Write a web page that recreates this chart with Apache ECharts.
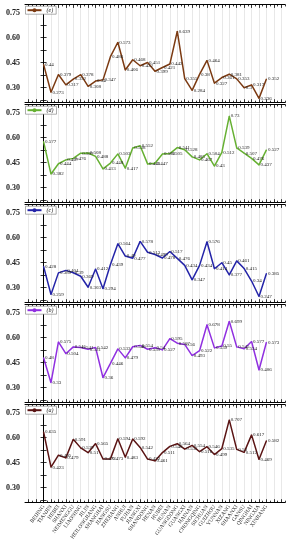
<!DOCTYPE html>
<html><head><meta charset="utf-8">
<script src="https://cdn.jsdelivr.net/npm/echarts@6/dist/echarts.min.js"></script>
<style>html,body{margin:0;padding:0;background:#fff}#c{width:290px;height:550px}</style>
</head><body><div id="c"></div>
<script>
const provinces = ['BEIJING','TIANJIN','HEBEI','SHANXI','NEIMENGGU','LIAONING','JILIN','HEILONGJIANG','SHANGHAI','JIANGSU','ZHEJIANG','ANHUI','FUJIAN','JIANGXI','SHANDONG','HENAN','HUBEI','HUNAN','GUANGDONG','GUANGXI','HAINAN','CHONGQING','SICHUAN','GUIZHOU','YUNNAN','XIZANG','SHAANXI','GANSU','QINGHAI','NINGXIA','XINJIANG'];
const panelNames = ['(e)','(d)','(c)','(b)','(a)'];
const seriesE = [0.44,0.273,0.379,0.317,0.352,0.378,0.308,0.34,0.347,0.486,0.573,0.406,0.468,0.432,0.451,0.399,0.421,0.442,0.639,0.355,0.284,0.38,0.464,0.327,0.361,0.381,0.353,0.3,0.317,0.236,0.352];
const seriesD = [0.577,0.382,0.444,0.467,0.476,0.507,0.508,0.488,0.413,0.448,0.503,0.417,0.538,0.552,0.443,0.447,0.502,0.505,0.541,0.528,0.485,0.467,0.504,0.43,0.512,0.73,0.539,0.507,0.476,0.437,0.527];
const seriesC = [0.428,0.259,0.389,0.404,0.39,0.369,0.303,0.412,0.294,0.439,0.564,0.49,0.477,0.578,0.513,0.499,0.478,0.517,0.476,0.434,0.347,0.434,0.576,0.414,0.45,0.377,0.461,0.415,0.34,0.247,0.385];
const seriesB = [0.48,0.33,0.575,0.504,0.545,0.541,0.531,0.542,0.36,0.446,0.533,0.479,0.546,0.554,0.531,0.54,0.527,0.595,0.567,0.56,0.493,0.522,0.678,0.539,0.55,0.699,0.545,0.534,0.577,0.406,0.573];
const seriesA = [0.635,0.423,0.495,0.479,0.591,0.539,0.51,0.565,0.472,0.473,0.594,0.483,0.592,0.542,0.472,0.461,0.511,0.548,0.564,0.532,0.554,0.516,0.546,0.499,0.535,0.707,0.53,0.512,0.617,0.469,0.582];
const yTickLabels = [0.30,0.45,0.60,0.75];
const yTicks = [0.225,0.30,0.375,0.45,0.525,0.60,0.675,0.75];

const allSeries = [seriesE, seriesD, seriesC, seriesB, seriesA];
const colors = ['#7b3a12','#66b032','#2424a8','#9030e0','#5a1414'];
const font = 'Liberation Serif';
const xMin = -2.5, xMax = 32.5;
const majorX = []; for (let i = -2; i <= 32; i++) majorX.push(i);
const minorX = []; for (let i = -2; i <= 32; i++) minorX.push(i + 0.5);
const catIdx = provinces.map((p, i) => i);

const grids = [], xAxes = [], yAxes = [], series = [], legends = [];
for (let k = 0; k < 5; k++) {
  const top = 4.4 + 100 * k;
  grids.push({left: 25, right: 5, top: top, height: 98.3});
  const base = {gridIndex: k, type: 'value', min: xMin, max: xMax};
  const lineStyle = {color: '#000', width: 1};
  xAxes.push(Object.assign({}, base, {
    position: 'bottom',
    axisLine: {show: true, lineStyle},
    axisTick: {show: true, inside: true, length: 3.5, customValues: majorX, lineStyle: {color: '#000', width: 0.8}},
    splitLine: {show: true, lineStyle: {color: '#e2e2e2', width: 0.8}},
    axisLabel: k === 4 ? {show: true, customValues: catIdx, rotate: 54, fontSize: 5.5, fontFamily: font, color: '#222', margin: 3,
      formatter: v => provinces[Math.round(v)] || ''} : {show: false}
  }));
  xAxes.push(Object.assign({}, base, {
    position: 'bottom', axisLine: {show: false},
    axisTick: {show: true, inside: true, length: 2, customValues: minorX, lineStyle: {color: '#000', width: 0.8}},
    splitLine: {show: false}, axisLabel: {show: false}
  }));
  xAxes.push(Object.assign({}, base, {
    position: 'top', axisLine: {show: true, lineStyle},
    axisTick: {show: true, inside: true, length: 3.5, customValues: majorX, lineStyle: {color: '#000', width: 0.8}},
    splitLine: {show: false}, axisLabel: {show: false}
  }));
  xAxes.push(Object.assign({}, base, {
    position: 'top', axisLine: {show: false},
    axisTick: {show: true, inside: true, length: 2, customValues: minorX, lineStyle: {color: '#000', width: 0.8}},
    splitLine: {show: false}, axisLabel: {show: false}
  }));
  yAxes.push({
    gridIndex: k, type: 'value', min: 0.21, max: 0.8, position: 'left',
    axisLine: {show: true, lineStyle},
    axisTick: {show: true, inside: true, length: 3, customValues: yTicks, lineStyle: {color: '#000', width: 0.8}},
    axisLabel: {show: true, customValues: yTickLabels, formatter: v => v.toFixed(2), fontSize: 8, fontWeight: 'bold', fontFamily: font, color: '#222', margin: 5},
    splitLine: {show: false}
  });
  yAxes.push({
    gridIndex: k, type: 'value', min: 0.21, max: 0.8, position: 'right',
    axisLine: {show: true, lineStyle},
    axisTick: {show: true, inside: true, length: 3, customValues: yTicks, lineStyle: {color: '#000', width: 0.8}},
    axisLabel: {show: false}, splitLine: {show: false}
  });
  series.push({
    name: panelNames[k], type: 'line', xAxisIndex: 4 * k, yAxisIndex: 2 * k,
    data: allSeries[k].map((v, i) => [i, v]),
    symbol: 'circle', symbolSize: 1, itemStyle: {color: colors[k]},
    lineStyle: {color: colors[k], width: 1.5},
    label: {show: true, position: 'right', distance: 1, fontSize: 5, fontFamily: font, color: '#222',
      formatter: p => String(p.value[1])},
    animation: false, z: 3
  });
  legends.push({
    data: [panelNames[k]], left: 25.5, top: top + 1.8, itemWidth: 14, itemHeight: 5, itemGap: 2,
    padding: [1, 3, 1, 1], borderColor: '#777', borderWidth: 0.6, backgroundColor: '#fff',
    textStyle: {fontSize: 6, fontFamily: font, color: '#222', fontStyle: 'italic'}
  });
}

const chart = echarts.init(document.getElementById('c'), null, {renderer: 'canvas'});
chart.setOption({
  animation: false, backgroundColor: '#fff',
  grid: grids, xAxis: xAxes, yAxis: yAxes, series: series, legend: legends
});
</script></body></html>
